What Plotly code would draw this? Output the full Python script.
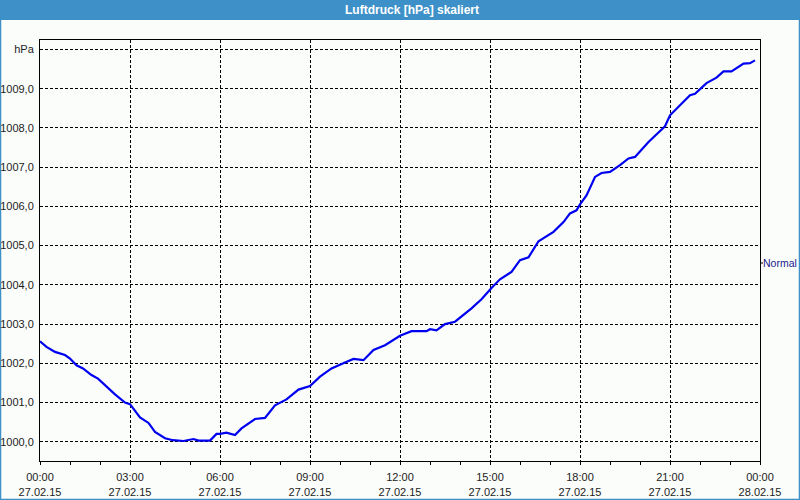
import plotly.graph_objects as go

# ---- data ----
times = ["00:00", "00:13", "00:30", "00:50", "01:00", "01:13", "01:26", "01:43", "01:56",
         "02:13", "02:30", "02:50", "03:00", "03:20", "03:37", "03:50", "04:10", "04:26",
         "04:47", "05:07", "05:17", "05:40", "05:53", "06:00", "06:13", "06:30", "06:43",
         "07:10", "07:30", "07:50", "08:13", "08:37", "09:00", "09:20", "09:43", "10:10",
         "10:27", "10:47", "11:07", "11:30", "12:00", "12:23", "12:53", "13:00", "13:13",
         "13:30", "13:50", "14:23", "14:43", "15:03", "15:20", "15:43", "16:00", "16:17",
         "16:37", "17:07", "17:27", "17:40", "17:53", "18:00", "18:13", "18:30", "18:43",
         "19:00", "19:20", "19:37", "19:50", "20:17", "20:50", "21:00", "21:20", "21:40",
         "21:50", "22:13", "22:33", "22:47", "23:03", "23:27", "23:40", "23:50"]
pressure = [1002.56, 1002.42, 1002.29, 1002.21, 1002.12, 1001.95, 1001.87, 1001.70, 1001.61,
            1001.40, 1001.21, 1001.00, 1000.96, 1000.62, 1000.48, 1000.25, 1000.09, 1000.04,
            1000.02, 1000.07, 1000.03, 1000.03, 1000.20, 1000.20, 1000.23, 1000.17, 1000.34,
            1000.58, 1000.61, 1000.93, 1001.08, 1001.33, 1001.42, 1001.66, 1001.87, 1002.02,
            1002.11, 1002.08, 1002.34, 1002.46, 1002.70, 1002.82, 1002.82, 1002.87, 1002.84,
            1003.00, 1003.06, 1003.40, 1003.63, 1003.92, 1004.14, 1004.33, 1004.63, 1004.70,
            1005.11, 1005.35, 1005.60, 1005.82, 1005.90, 1006.05, 1006.28, 1006.75, 1006.85,
            1006.88, 1007.05, 1007.22, 1007.26, 1007.64, 1008.04, 1008.32, 1008.57, 1008.83,
            1008.87, 1009.14, 1009.28, 1009.44, 1009.44, 1009.64, 1009.65, 1009.72]
x_tick_times = ["2015-02-27 00:00", "2015-02-27 03:00", "2015-02-27 06:00", "2015-02-27 09:00",
                "2015-02-27 12:00", "2015-02-27 15:00", "2015-02-27 18:00", "2015-02-27 21:00",
                "2015-02-28 00:00"]
x_tick_labels = ["00:00<br>27.02.15", "03:00<br>27.02.15", "06:00<br>27.02.15", "09:00<br>27.02.15",
                 "12:00<br>27.02.15", "15:00<br>27.02.15", "18:00<br>27.02.15", "21:00<br>27.02.15",
                 "00:00<br>28.02.15"]
y_tick_vals = [1000, 1001, 1002, 1003, 1004, 1005, 1006, 1007, 1008, 1009, 1010]
y_tick_labels = ["1000,0", "1001,0", "1002,0", "1003,0", "1004,0", "1005,0", "1006,0",
                 "1007,0", "1008,0", "1009,0", "hPa"]
title_text = "Luftdruck [hPa] skaliert"
normal_label = "Normal"

x = ["2015-02-27 " + t for t in times]

W, H = 800, 500
L, R, T, B = 40, 760, 40, 461


def px(xp):
    return (xp - L) / (R - L)


def py(yp):
    return (B - yp) / (B - T)


FONT = "Liberation Sans"
BG = "#FBFDFB"
BLUE_BAR = "#3D91C8"
TXT = "#1C1C1C"

fig = go.Figure()
fig.add_trace(go.Scatter(x=x, y=pressure, mode="lines",
                         line=dict(color="#0000F0", width=2.2), hoverinfo="skip"))

fig.update_layout(
    width=W, height=H,
    margin=dict(l=L, r=W - R, t=T, b=H - B, pad=0, autoexpand=False),
    paper_bgcolor=BG, plot_bgcolor=BG,
    showlegend=False,
    font=dict(family=FONT, size=11, color=TXT),
    xaxis=dict(
        type="date", automargin=False,
        range=["2015-02-27 00:00", "2015-02-28 00:00"],
        tickmode="array", tickvals=x_tick_times, ticktext=x_tick_labels,
        ticks="outside", ticklen=3, tickcolor="black", tickwidth=1,
        showgrid=True, gridcolor="black", gridwidth=1, griddash="3px,2px",
        showline=True, linecolor="black", linewidth=1, mirror=True,
        zeroline=False,
        minor=dict(dtick=3600000, ticks="outside", ticklen=3, tickcolor="black",
                   showgrid=False),
        tickfont=dict(family=FONT, size=11, color=TXT),
        ticklabelstandoff=3,
    ),
    yaxis=dict(
        automargin=False,
        range=[999.51, 1010.24],
        tickmode="array", tickvals=y_tick_vals, ticktext=y_tick_labels,
        ticks="", showgrid=True, gridcolor="black", gridwidth=1, griddash="3px,2px",
        showline=True, linecolor="black", linewidth=1, mirror=True,
        zeroline=False,
        tickfont=dict(family=FONT, size=11, color=TXT),
        ticklabelstandoff=3,
    ),
    shapes=[
        dict(type="rect", xref="paper", yref="paper", x0=px(0), x1=px(W), y0=py(20), y1=py(0),
             fillcolor=BLUE_BAR, line=dict(width=0), layer="below"),
        dict(type="rect", xref="paper", yref="paper", x0=px(0.5), x1=px(W - 0.5),
             y0=py(H - 0.5), y1=py(0.5), line=dict(color=BLUE_BAR, width=1.5),
             fillcolor="rgba(0,0,0,0)", layer="below"),
        dict(type="line", xref="paper", yref="paper", x0=px(760), x1=px(763), y0=py(263), y1=py(263),
             line=dict(color="black", width=1)),
    ],
    annotations=[
        dict(text="<b>" + title_text + "</b>", xref="paper", yref="paper", x=px(412), y=py(10),
             xanchor="center", yanchor="middle", showarrow=False,
             font=dict(family=FONT, size=12, color="white")),
        dict(text=normal_label, xref="paper", yref="paper", x=px(761), y=py(263),
             xanchor="left", yanchor="middle", showarrow=False,
             font=dict(family=FONT, size=10.5, color="#1A1A8C")),
    ],
)

fig.write_html("out.html")
